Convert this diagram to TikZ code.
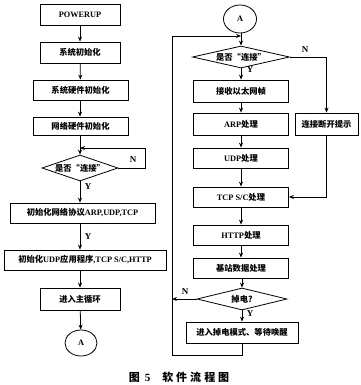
\documentclass[tikz,border=0pt]{standalone}
\usepackage{fontspec}
\setmainfont{Liberation Serif}
\newfontfamily\cjf{Noto Sans CJK SC}
\usetikzlibrary{shapes.geometric,arrows.meta}
\begin{document}
\begin{tikzpicture}[x=1pt,y=-1pt,
  every node/.style={font=\fontsize{8.3}{9}\selectfont\bfseries},
  box/.style={draw, line width=0.8pt, minimum height=21pt, inner sep=0pt},
  dia/.style={draw, diamond, line width=0.8pt, inner sep=0pt},
  conn/.style={draw, ellipse, line width=0.8pt, inner sep=0pt, minimum width=32pt, minimum height=26pt},
  arr/.style={line width=0.8pt, -{Stealth[length=5pt,width=4pt]}},
  ln/.style={line width=0.8pt},
  yn/.style={font=\fontsize{9}{9}\selectfont\bfseries}]
\useasboundingbox (0,0) rectangle (360,385);
% left column
\node[box, minimum width=80pt] (p1) at (80,15) {POWERUP};
\node[box, minimum width=80pt] (p2) at (80,52.5) {\cjf 系统初始化};
\node[box, minimum width=95pt, minimum height=20pt] (p3) at (80.5,90) {\cjf 系统硬件初始化};
\node[box, minimum width=95pt, minimum height=18pt] (p4) at (80.5,126) {\cjf 网络硬件初始化};
\node[dia, minimum width=76pt, minimum height=26pt] (d1) at (80,168) {};
\node (d1t) at (d1) {\cjf 是否“连接”};
\node[box, minimum width=145pt, minimum height=20pt] (p5) at (82.5,213) {{\cjf 初始化网络协议}ARP,UDP,TCP};
\node[box, minimum width=162pt, minimum height=20pt] (p6) at (85,260) {{\cjf 初始化}UDP{\cjf 应用程序},TCP S/C,HTTP};
\node[box, minimum width=80pt, minimum height=22pt] (p7) at (80,299) {\cjf 进入主循环};
\node[conn] (a1) at (81,343) {A};
\draw[arr] (p1) -- (p2);
\draw[arr] (p2) -- (p3);
\draw[arr] (p3.south -| p2.south) -- (p4.north -| p2.south);
\draw[arr] (p4.south -| d1.north) -- (d1.north);
\draw[arr] (d1.south) -- (d1.south |- p5.north);
\draw[arr] (d1.south |- p5.south) -- (d1.south |- p6.north);
\draw[arr] (p7.north |- p6.south) -- (p7.north);
\draw[arr] (p7) -- (a1);
\coordinate (l1) at (145,148);
\draw[arr] (d1.east) -| (l1) -- (d1.north |- l1);
\node[yn] (n1) at (133,160) {N};
\node[yn] (y1) at (88,187) {Y};
\node[yn] (y2) at (88,237) {Y};
% right column
\node[conn, minimum height=28pt, minimum width=33pt] (a2) at (240,19) {A};
\node[dia, minimum width=97pt, minimum height=22pt] (d2) at (241,57) {};
\node (d2t) at (d2) {\cjf 是否“连接”};
\node[box, minimum width=95pt, minimum height=22pt] (q1) at (241,91) {\cjf 接收以太网帧};
\node[box, minimum width=95pt, minimum height=22pt] (q2) at (241,124) {ARP{\cjf 处理}};
\node[box, minimum width=63pt, minimum height=22pt] (q7) at (326.5,124) {\cjf 连接断开提示};
\node[box, minimum width=95pt, minimum height=20pt] (q3) at (241,158) {UDP{\cjf 处理}};
\node[box, minimum width=95pt, minimum height=20pt] (q4) at (241,197) {TCP S/C{\cjf 处理}};
\node[box, minimum width=95pt, minimum height=20pt] (q5) at (241,235) {HTTP{\cjf 处理}};
\node[box, minimum width=95pt, minimum height=20pt] (q6) at (241,268) {\cjf 基站数据处理};
\node[dia, minimum width=90pt, minimum height=22pt] (d3) at (242,299) {};
\node (d3t) at (d3) {\cjf 掉电?};
\node[box, minimum width=112pt, minimum height=21pt] (q8) at (242,332.5) {\cjf 进入掉电模式、等待唤醒};
\draw[arr] (a2.south -| d2.north) -- (d2.north);
\draw[arr] (d2.south) -- (d2.south |- q1.north);
\draw[arr] (q1) -- (q2);
\draw[arr] (q2) -- (q3);
\draw[arr] (q3) -- (q4);
\draw[arr] (q4) -- (q5);
\draw[arr] (q5) -- (q6);
\draw[arr] (q6.south -| d3.north) -- (d3.north);
\draw[arr] (d3.south) -- (d3.south |- q8.north);
\coordinate (r1) at (172,355);
\coordinate (r2) at (172,36);
\draw[arr] (q8.south) |- (r1) -- (r2) -- (d2.north |- r2);
\draw[arr] (d3.west) -- (d3.west -| r2);
\draw[arr] (d2.east) -| (q7.north);
\draw[arr] (q7.south) |- (q4.east);
\node[yn] (n2) at (305,50) {N};
\node[yn] (y3) at (250,70) {Y};
\node[yn] (n3) at (185,292) {N};
\node[yn] (y4) at (250,314) {Y};
% caption
\node[font=\fontsize{11}{11}\selectfont\bfseries] (cap) at (179,377) {{\cjf 图}\hspace{5pt}5\hspace{12pt}{\cjf 软\hspace{3pt}件\hspace{3pt}流\hspace{3pt}程\hspace{3pt}图}};
\end{tikzpicture}
\end{document}
